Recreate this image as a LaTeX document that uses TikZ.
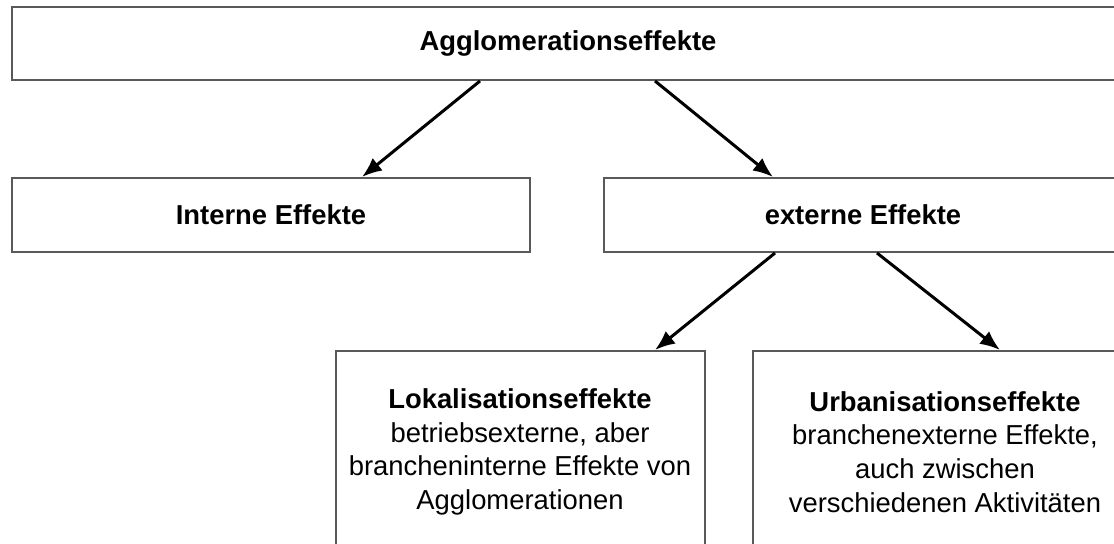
\documentclass[tikz,border=0pt]{standalone}
\usepackage{fontspec}
\setmainfont{Liberation Sans}
\usetikzlibrary{arrows.meta}

\begin{document}
\begin{tikzpicture}[x=0.5pt, y=-0.5pt,
        box/.style={draw=black!65, line width=1pt, fill=white, align=center,
            font=\fontsize{13.7}{16.8}\selectfont, inner sep=0pt},
        arrow/.style={line width=1.5pt, -{Latex[length=10pt,width=8pt]}}]
                \clip (0,0) rectangle (1114,544);

                % Draw the boxes
                \node[box, minimum width=556pt, minimum height=36.5pt] (top) at (568,43.5) {\textbf{Agglomerationseffekte}};

                \node[box, minimum width=259pt, minimum height=37pt] (intern) at (271,215) {\textbf{Interne Effekte}};
                \node[box, minimum width=259pt, minimum height=37pt] (extern) at (863,215) {\textbf{externe Effekte}};

                \node[box, minimum width=184.5pt, minimum height=101pt] (lokal) at (520,452) {\textbf{Lokalisationseffekte}\\betriebsexterne, aber\\brancheninterne Effekte von\\Agglomerationen};
                \node[box, minimum width=192pt, minimum height=101pt] (urban) at (945,452) {\textbf{Urbanisationseffekte}\\branchenexterne Effekte,\\auch zwischen\\verschiedenen Aktivit\"aten};

                % Draw the arrows
                \draw[arrow] ([xshift=-44pt]top.south) -- ([xshift=45.5pt]intern.north);
                \draw[arrow] ([xshift=43.5pt]top.south) -- ([xshift=-45pt]extern.north);

                \draw[arrow] ([xshift=-44pt]extern.south) -- ([xshift=67.5pt]lokal.north);
                \draw[arrow] ([xshift=7pt]extern.south) -- ([xshift=27.5pt]urban.north);
\end{tikzpicture}
\end{document}
